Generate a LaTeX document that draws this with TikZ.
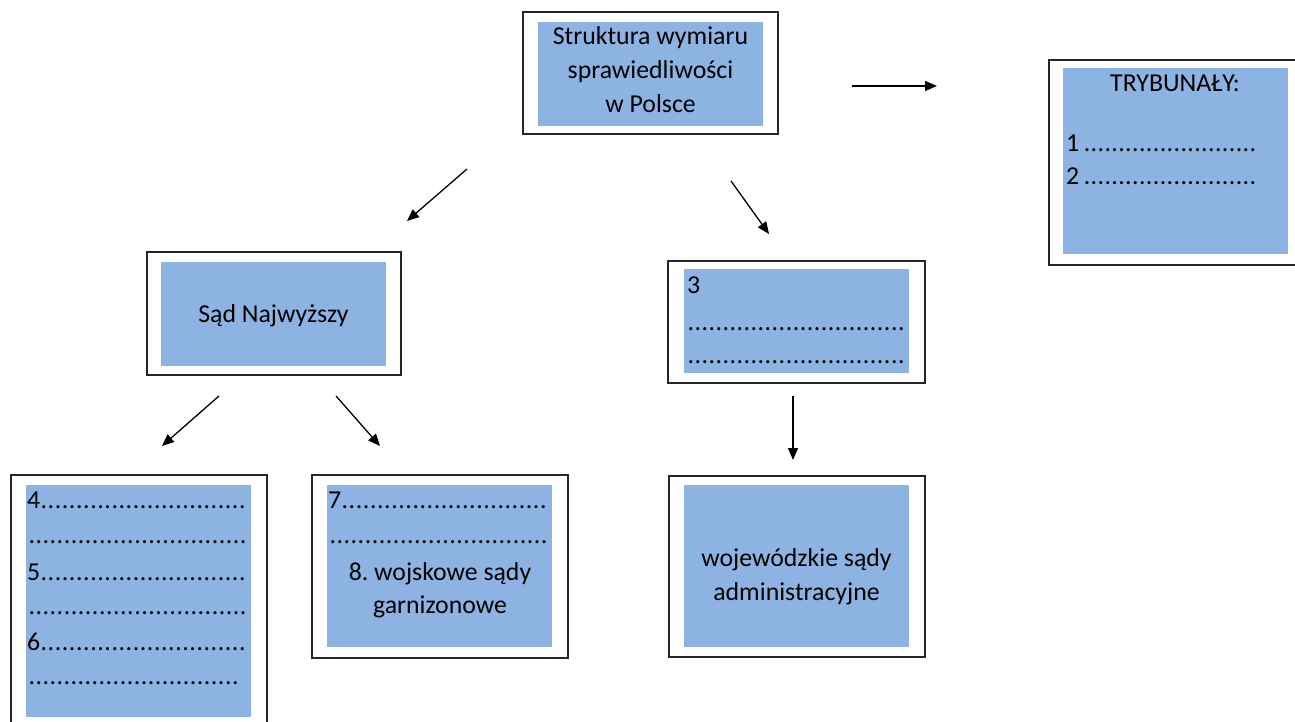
\documentclass[tikz,border=0pt]{standalone}
\usepackage{fontspec}
\setmainfont{Carlito}
\usetikzlibrary{arrows.meta}
\frenchspacing
\definecolor{boxblue}{HTML}{8DB3E2}
\newcommand\dotrow[1]{\hbox to #1{\xleaders\hbox to 6.9pt{\hss.\hss}\hfill}}
\tikzset{
  outerbox/.style={draw=black!85, line width=1.3pt, fill=white, inner sep=0pt},
  innerbox/.style={fill=boxblue, inner sep=0pt},
  txt/.style={inner sep=0pt, font=\fontsize{25.8}{34}\selectfont},
  arr/.style={line width=1.3pt, -{Triangle[length=12pt,width=10pt]}}
}
\begin{document}
\begin{tikzpicture}[x=1pt,y=-1pt]
\useasboundingbox (0,0) rectangle (1295,722);
% boxes
\node[outerbox, minimum width=255, minimum height=122] (topo) at (650.5,73) {};
\node[innerbox, minimum width=225, minimum height=104] (topi) at (650.5,74) {};
\node[outerbox, minimum width=250, minimum height=205] (tryo) at (1174,162.5) {};
\node[innerbox, minimum width=225, minimum height=186] (tryi) at (1175.5,161) {};
\node[outerbox, minimum width=254, minimum height=123] (sno) at (274,313.5) {};
\node[innerbox, minimum width=225, minimum height=104] (sni) at (273.5,314) {};
\node[outerbox, minimum width=257, minimum height=122] (b3o) at (796.5,322) {};
\node[innerbox, minimum width=225, minimum height=104] (b3i) at (796.5,321) {};
\node[outerbox, minimum width=256, minimum height=270] (b4o) at (139,610) {};
\node[innerbox, minimum width=225, minimum height=232] (b4i) at (138.5,601) {};
\node[outerbox, minimum width=256, minimum height=183] (b7o) at (440,566.5) {};
\node[innerbox, minimum width=225, minimum height=162] (b7i) at (439.5,566) {};
\node[outerbox, minimum width=256, minimum height=181] (wo) at (797,566.5) {};
\node[innerbox, minimum width=225, minimum height=162] (wi) at (796.5,566) {};
% texts
\node[txt, anchor=base] (t1) at (650.5,45) {Struktura wymiaru};
\node[txt, anchor=base] (t2) at (650.5,79) {sprawiedliwości};
\node[txt, anchor=base] (t3) at (650.5,113) {w Polsce};
\node[txt, anchor=base] (tr0) at (1175,92) {TRYBUNAŁY:};
\node[txt, anchor=base west] (tr1) at (1066,152) {1\,\dotrow{173pt}};
\node[txt, anchor=base west] (tr2) at (1066,185) {2\,\dotrow{173pt}};
\node[txt, anchor=base] (sn) at (273.5,322) {Sąd Najwyższy};
\node[txt, anchor=base west] (c1) at (687,293) {3};
\node[txt, anchor=base west] (c2) at (687,330) {\dotrow{218pt}};
\node[txt, anchor=base west] (c3) at (687,363) {\dotrow{218pt}};
\node[txt, anchor=base west] (d1) at (27,508) {4\dotrow{206pt}};
\node[txt, anchor=base west] (d2) at (28,543) {\dotrow{219pt}};
\node[txt, anchor=base west] (d3) at (27,580) {5\dotrow{206pt}};
\node[txt, anchor=base west] (d4) at (28,614) {\dotrow{219pt}};
\node[txt, anchor=base west] (d5) at (27,650) {6\dotrow{206pt}};
\node[txt, anchor=base west] (d6) at (28,684) {\dotrow{211pt}};
\node[txt, anchor=base west] (e1) at (328,508) {7\dotrow{206pt}};
\node[txt, anchor=base west] (e2) at (329,543) {\dotrow{219pt}};
\node[txt, anchor=base] (e3) at (440,580) {8. wojskowe sądy};
\node[txt, anchor=base] (e4) at (440,613) {garnizonowe};
\node[txt, anchor=base] (w1) at (796.5,566) {wojewódzkie sądy};
\node[txt, anchor=base] (w2) at (796.5,600) {administracyjne};
% arrows
\coordinate (a1s) at (852,86);  \coordinate (a1e) at (937,86);
\coordinate (a2s) at (467,169); \coordinate (a2e) at (407,221);
\coordinate (a3s) at (731,181); \coordinate (a3e) at (769,234);
\coordinate (a4s) at (219,396); \coordinate (a4e) at (162,446);
\coordinate (a5s) at (336,396); \coordinate (a5e) at (380,446);
\coordinate (a6s) at (793,396); \coordinate (a6e) at (793,460);
\draw[arr] (a1s) -- (a1e);
\draw[arr] (a2s) -- (a2e);
\draw[arr] (a3s) -- (a3e);
\draw[arr] (a4s) -- (a4e);
\draw[arr] (a5s) -- (a5e);
\draw[arr] (a6s) -- (a6e);
\end{tikzpicture}
\end{document}
